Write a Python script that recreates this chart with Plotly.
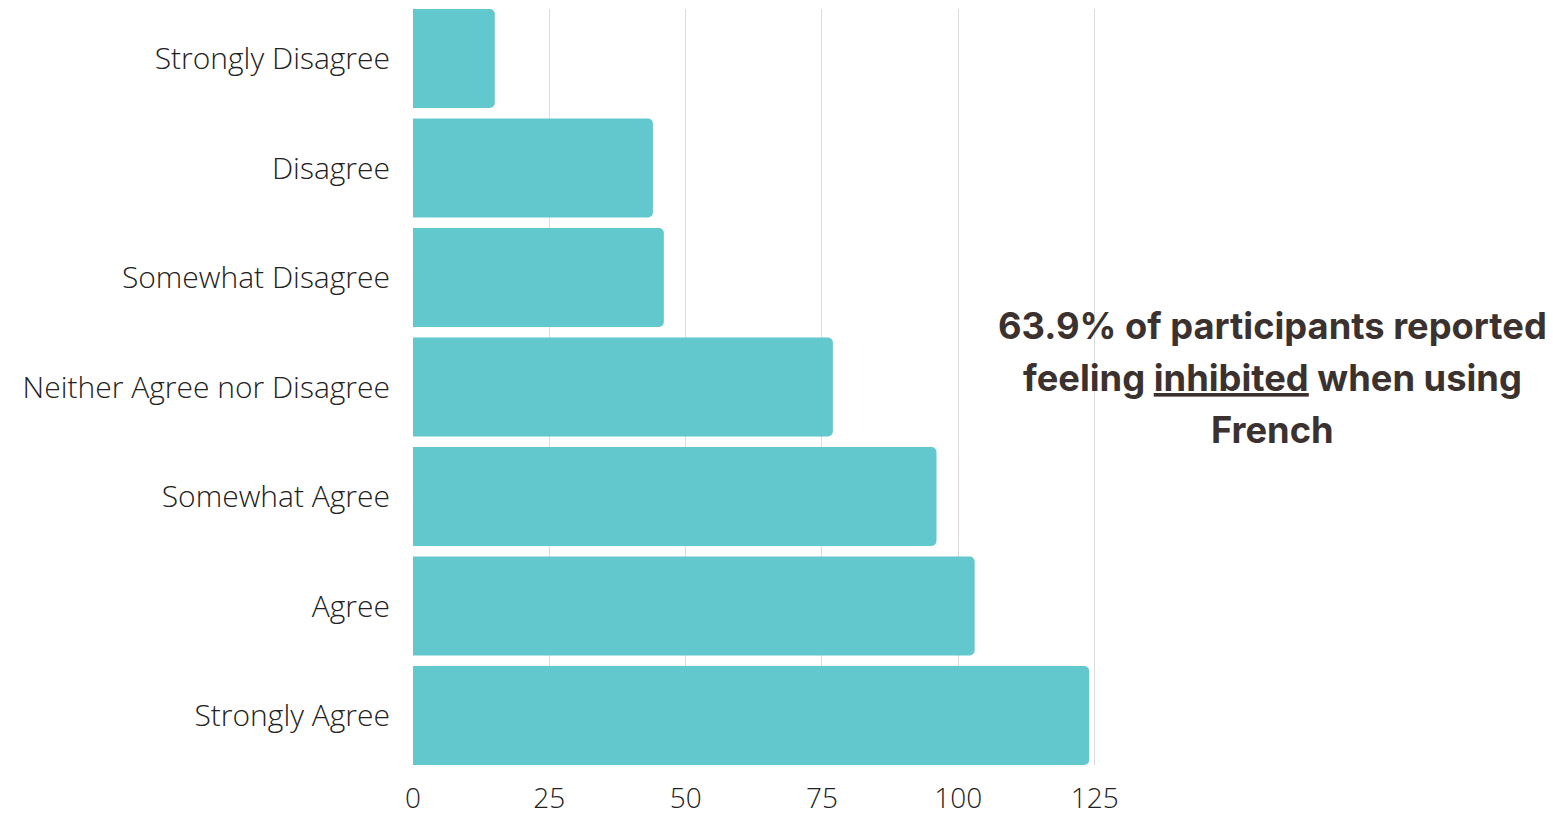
import plotly.graph_objects as go

categories = ["Strongly Disagree", "Disagree", "Somewhat Disagree",
              "Neither Agree nor Disagree", "Somewhat Agree", "Agree", "Strongly Agree"]
counts = [15, 44, 46, 77, 96, 103, 124]
x_ticks = [0, 25, 50, 75, 100, 125]
note_lines = ["63.9% of participants reported",
              "feeling <u>inhibited</u> when using",
              "French"]
note_y = [0.5807, 0.5119, 0.4431]

bargap = 0.096
half = (1 - bargap) / 2

fig = go.Figure(go.Bar(
    x=counts, y=categories, orientation="h",
    marker=dict(color="#62c8ce", line=dict(width=0)),
    hoverinfo="skip",
))

fig.update_layout(
    width=1553, height=815,
    margin=dict(l=405, r=465, t=1, b=58),
    paper_bgcolor="white", plot_bgcolor="white",
    bargap=bargap,
    barcornerradius=5,
    showlegend=False,
    xaxis=dict(range=[0, 125.25], tickvals=x_ticks, showgrid=True, gridcolor="#dcdcdc",
               gridwidth=1, zeroline=False, showline=False, ticks="",
               ticklabelstandoff=14,
               tickfont=dict(family="Open Sans", size=28, color="#222222", weight=300)),
    yaxis=dict(categoryorder="array", categoryarray=categories,
               range=[len(categories) - 1 + half, -half], autorange=False,
               showgrid=False, zeroline=False, showline=False, ticks="",
               ticklabelstandoff=22,
               tickfont=dict(family="Open Sans", size=30, color="#222222", weight=300)),
    annotations=[dict(
        text=t, xref="paper", yref="paper", x=1.2577, y=yy,
        xanchor="center", yanchor="middle", align="center", showarrow=False,
        font=dict(family="Inter", size=36.3, color="#3b3230", weight=700),
    ) for t, yy in zip(note_lines, note_y)],
)

fig.write_html("out.html")
